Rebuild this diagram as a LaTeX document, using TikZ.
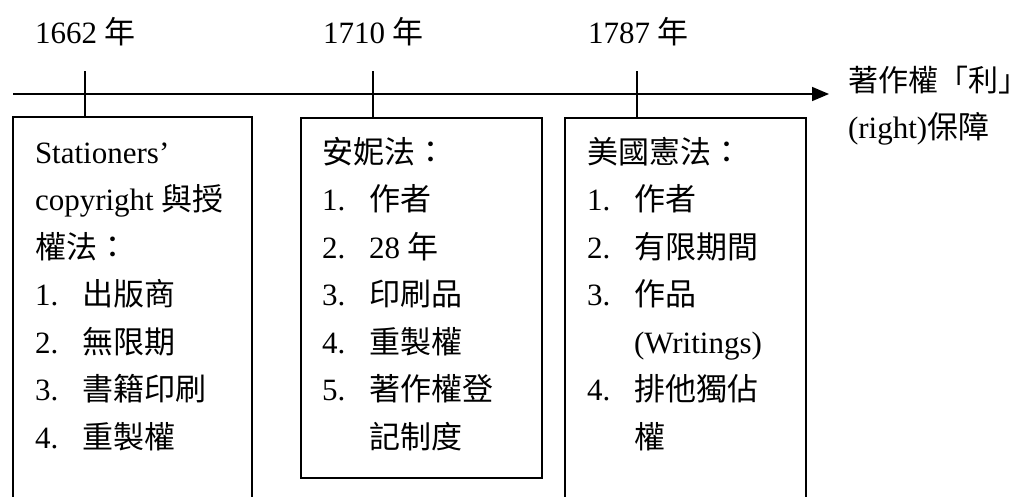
\documentclass[tikz,border=0pt]{standalone}
\usepackage{fontspec}
\setmainfont{Liberation Serif}
\newfontfamily\cjkfont{Noto Sans CJK TC}
\newcommand\zh[1]{{\cjkfont #1}}
\usetikzlibrary{arrows.meta}
\begin{document}
\begin{tikzpicture}[x=1pt,y=-1pt,
  every node/.style={inner sep=0pt,outer sep=0pt,font=\fontsize{31}{36}\selectfont},
  txt/.style={anchor=base west},
  frame/.style={draw,line width=1.7pt,anchor=north west},
  rule/.style={line width=1.7pt}]
\useasboundingbox (0,0) rectangle (1029,496);
\clip (0,0) rectangle (1029,496);

% boxes
\node[frame,minimum width=239pt,minimum height=400pt] (b1) at (13,117) {};
\node[frame,minimum width=241pt,minimum height=360pt] (b2) at (301,118) {};
\node[frame,minimum width=241pt,minimum height=400pt] (b3) at (565,118) {};

% year labels
\node[txt] (y1) at (35,43) {1662 \zh{年}};
\node[txt] (y2) at (323,43) {1710 \zh{年}};
\node[txt] (y3) at (588,43) {1787 \zh{年}};

% timeline
\coordinate (s) at (13,94);
\coordinate (e) at (829,94);
\draw[rule,-{Triangle[length=17pt,width=14pt]}] (s) -- (e);

% ticks
\coordinate (t1) at (85,71);
\coordinate (t2) at (373,71);
\coordinate (t3) at (637,71);
\draw[rule] (t1) -- (t1 |- b1.north);
\draw[rule] (t2) -- (t2 |- b2.north);
\draw[rule] (t3) -- (t3 |- b3.north);

% goal label
\node[txt,font=\fontsize{30}{36}\selectfont] (g1) at (848,91) {\zh{著作權「利」}};
\node[txt] (g2) at (848,138) {(right)\zh{保障}};

% box 1
\node[txt] (a0) at (35,163) {Stationers’};
\node[txt] (a1) at (35,210.5) {copyright \zh{與授}};
\node[txt] (a2) at (35,258) {\zh{權法：}};
\node[txt] (a3n) at (35,305.5) {1.};
\node[txt] (a3) at (82,305.5) {\zh{出版商}};
\node[txt] (a4n) at (35,353) {2.};
\node[txt] (a4) at (82,353) {\zh{無限期}};
\node[txt] (a5n) at (35,400.5) {3.};
\node[txt] (a5) at (82,400.5) {\zh{書籍印刷}};
\node[txt] (a6n) at (35,448) {4.};
\node[txt] (a6) at (82,448) {\zh{重製權}};

% box 2
\node[txt] (c0) at (322,163) {\zh{安妮法：}};
\node[txt] (c1n) at (322,210.5) {1.};
\node[txt] (c1) at (369,210.5) {\zh{作者}};
\node[txt] (c2n) at (322,258) {2.};
\node[txt] (c2) at (369,258) {28 \zh{年}};
\node[txt] (c3n) at (322,305.5) {3.};
\node[txt] (c3) at (369,305.5) {\zh{印刷品}};
\node[txt] (c4n) at (322,353) {4.};
\node[txt] (c4) at (369,353) {\zh{重製權}};
\node[txt] (c5n) at (322,400.5) {5.};
\node[txt] (c5) at (369,400.5) {\zh{著作權登}};
\node[txt] (c6) at (369,448) {\zh{記制度}};

% box 3
\node[txt] (d0) at (587,163) {\zh{美國憲法：}};
\node[txt] (d1n) at (587,210.5) {1.};
\node[txt] (d1) at (634,210.5) {\zh{作者}};
\node[txt] (d2n) at (587,258) {2.};
\node[txt] (d2) at (634,258) {\zh{有限期間}};
\node[txt] (d3n) at (587,305.5) {3.};
\node[txt] (d3) at (634,305.5) {\zh{作品}};
\node[txt] (d4) at (634,353) {(Writings)};
\node[txt] (d5n) at (587,400.5) {4.};
\node[txt] (d5) at (634,400.5) {\zh{排他獨佔}};
\node[txt] (d6) at (634,448) {\zh{權}};
\end{tikzpicture}
\end{document}
